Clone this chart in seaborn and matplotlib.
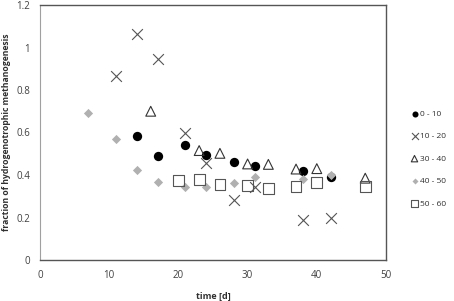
import matplotlib
matplotlib.use("Agg")
import matplotlib.pyplot as plt
import seaborn as sns
import pandas as pd

sns.set_style("white")
plt.rcParams['font.family'] = ['Open Sans', 'DejaVu Sans']

labels = ["0 - 10", "10 - 20", "30 - 40", "40 - 50", "50 - 60"]

t_0_10 = [14, 17, 21, 24, 28, 31, 38, 42]
f_0_10 = [0.584, 0.488, 0.541, 0.493, 0.46, 0.444, 0.42, 0.392]

t_10_20 = [11, 14, 17, 21, 24, 28, 31, 38, 42]
f_10_20 = [0.864, 1.065, 0.944, 0.60, 0.455, 0.284, 0.345, 0.19, 0.198]

t_30_40 = [16, 23, 26, 30, 33, 37, 40, 47]
f_30_40 = [0.70, 0.515, 0.502, 0.452, 0.45, 0.428, 0.43, 0.385]

t_40_50 = [7, 11, 14, 17, 21, 24, 28, 31, 38, 42]
f_40_50 = [0.692, 0.571, 0.422, 0.365, 0.345, 0.345, 0.362, 0.392, 0.381, 0.401]

t_50_60 = [20, 23, 26, 30, 33, 37, 40, 47]
f_50_60 = [0.373, 0.38, 0.354, 0.351, 0.337, 0.345, 0.365, 0.345]

x_ticks = [0, 10, 20, 30, 40, 50]
y_ticks = [0, 0.2, 0.4, 0.6, 0.8, 1, 1.2]
y_tick_labels = ["0", "0.2", "0.4", "0.6", "0.8", "1", "1.2"]

fig = plt.figure(figsize=(4.54, 3.01), dpi=100)
ax = fig.add_axes([40/454, 1-260/301, (386-40)/454, (260-5)/301])

sns.scatterplot(x=t_0_10, y=f_0_10, ax=ax, marker='o', color='black', s=45,
                linewidth=0, label=labels[0])
sns.scatterplot(x=t_10_20, y=f_10_20, ax=ax, marker='x', color='#555555', s=60,
                linewidth=0.8, label=labels[1])
sns.scatterplot(x=t_30_40, y=f_30_40, ax=ax, marker='^', s=50, fc='none',
                ec='#333333', linewidth=0.8, label=labels[2])
sns.scatterplot(x=t_40_50, y=f_40_50, ax=ax, marker='D', color='#b0b0b0', s=22,
                linewidth=0, label=labels[3])
sns.scatterplot(x=t_50_60, y=f_50_60, ax=ax, marker='s', s=60, fc='none',
                ec='#555555', linewidth=0.8, label=labels[4])

ax.set_xlim(0, 50)
ax.set_ylim(0, 1.2)
ax.set_xticks(x_ticks)
ax.set_yticks(y_ticks)
ax.set_yticklabels(y_tick_labels)
ax.tick_params(axis='both', labelsize=7, colors='#404040', length=3, width=0.8,
               direction='out', pad=4)
for lab in ax.get_xticklabels() + ax.get_yticklabels():
    lab.set_color('#404040')

for side in ['top', 'right', 'bottom']:
    ax.spines[side].set_color('#555555')
    ax.spines[side].set_linewidth(1)
ax.spines['left'].set_color('#a0a0a0')
ax.spines['left'].set_linewidth(0.8)

ax.set_xlabel("time [d]", fontsize=6.5, fontweight='bold', color='#303030')
ax.set_ylabel("fraction of hydrogenotrophic methanogenesis", fontsize=6.2,
              fontweight='bold', color='#303030')
ax.xaxis.set_label_coords(0.5, -0.125)
ax.yaxis.set_label_coords(-0.084, 0.5)

leg = ax.legend(loc='upper left', bbox_to_anchor=(407/454, 1-106/301),
                bbox_transform=fig.transFigure, frameon=False, fontsize=6,
                labelspacing=1.75, handletextpad=0.2, handlelength=0.8,
                borderpad=0, markerscale=0.65)
for txt in leg.get_texts():
    txt.set_color('#303030')

fig.savefig("out.png", dpi=100)
